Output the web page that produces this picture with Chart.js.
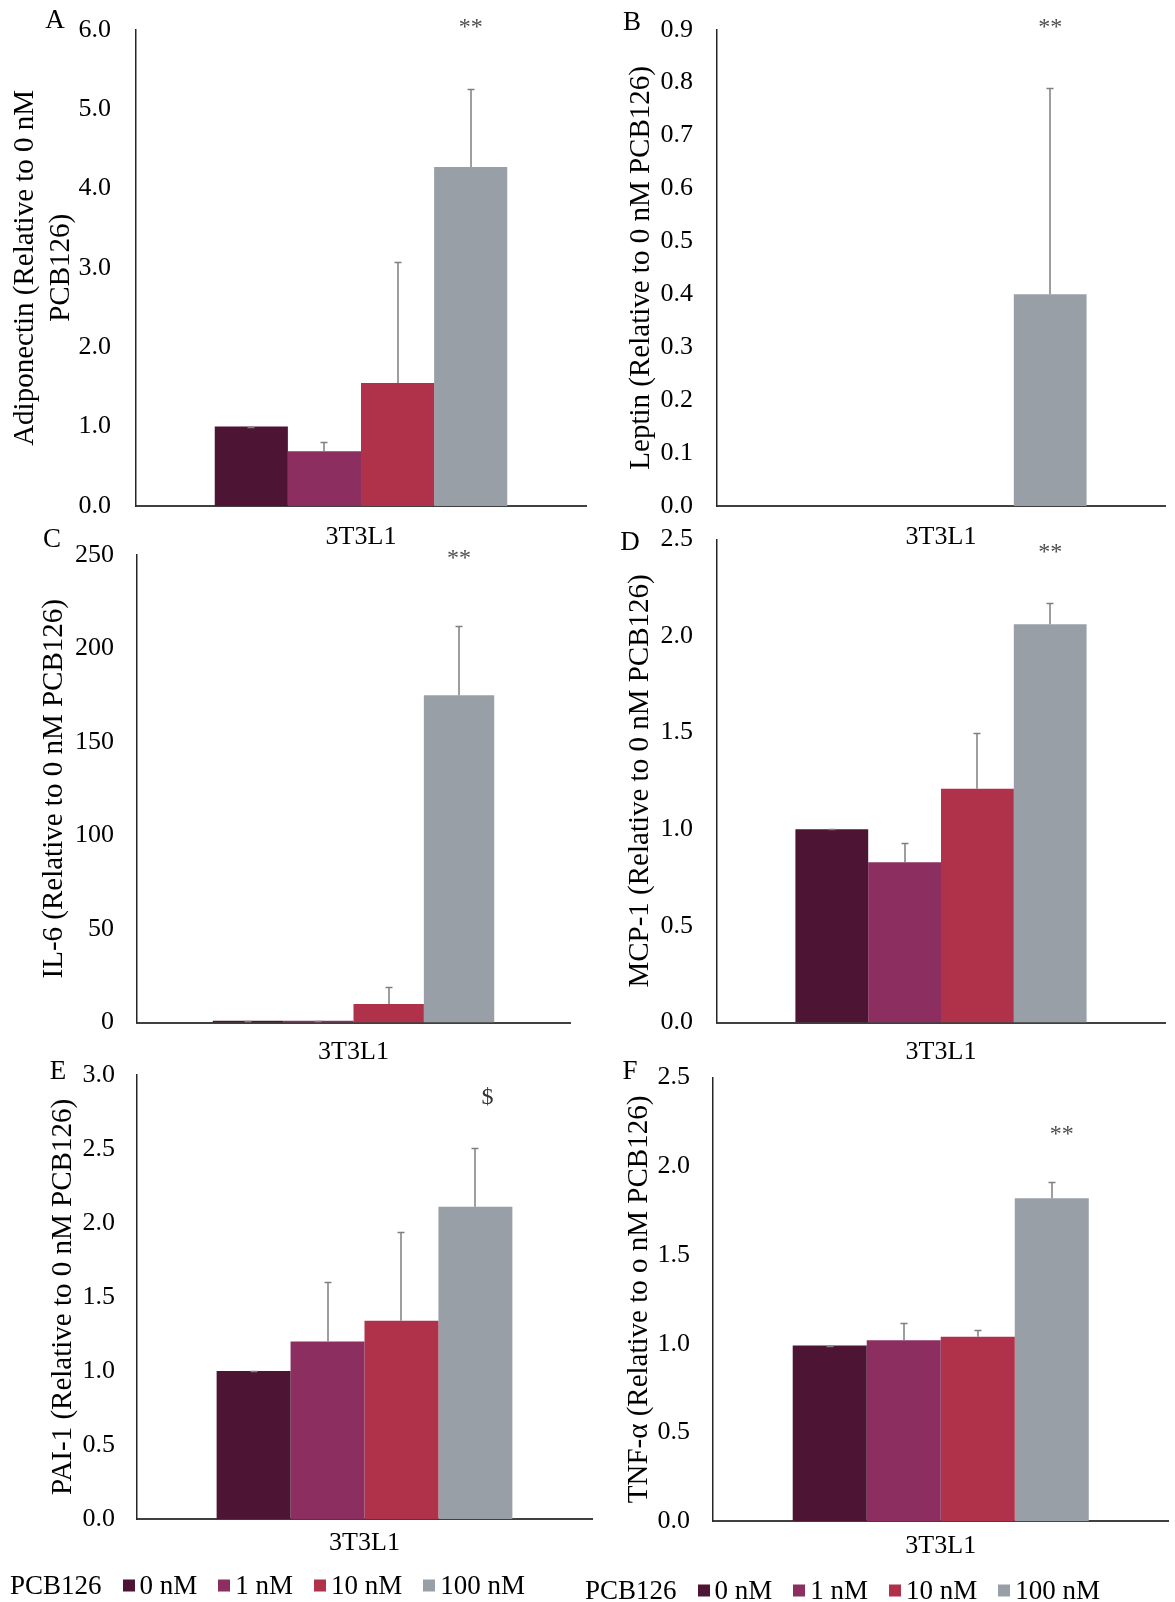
<!DOCTYPE html>
<html>
<head>
<meta charset="utf-8">
<script src="https://cdn.jsdelivr.net/npm/chart.js@4.4.0/dist/chart.umd.min.js"></script>
<style>
  html, body { margin: 0; padding: 0; background: #fff; }
  #page { position: relative; width: 1175px; height: 1602px; overflow: hidden;
          font-family: 'Liberation Serif', 'Times New Roman', serif; color: #000; }
  #page canvas { position: absolute; }
  .letter { position: absolute; font-size: 27px; line-height: 1; transform: translate(-50%, -50%); }
  .legend { position: absolute; display: flex; align-items: center; font-size: 27px; line-height: 1;
            white-space: nowrap; transform: translateY(-50%); }
  .legend .item { display: flex; align-items: center; margin-left: 21px; }
  .legend .sw { display: inline-block; width: 12px; height: 12px; margin-right: 5px; }
</style>
</head>
<body>
<div id="page"></div>
<script>
// ---- data ----
const categories = ['3T3L1'];
const doseLabels = ['0 nM', '1 nM', '10 nM', '100 nM'];
const legendTitle = 'PCB126';

const adiponectinMean = [1.00, 0.69, 1.55, 4.27];
const adiponectinErr  = [0.00, 0.12, 1.52, 0.98];
const adiponectinTicks = [0, 1, 2, 3, 4, 5, 6];
const adiponectinSig = ['', '', '', '**'];

const leptinMean = [null, null, null, 0.40];
const leptinErr  = [null, null, null, 0.39];
const leptinTicks = [0, 0.1, 0.2, 0.3, 0.4, 0.5, 0.6, 0.7, 0.8, 0.9];
const leptinSig = ['', '', '', '**'];

const il6Mean = [1.0, 1.0, 9.9, 175.0];
const il6Err  = [0.0, 0.0, 8.9, 37.1];
const il6Ticks = [0, 50, 100, 150, 200, 250];
const il6Sig = ['', '', '', '**'];

const mcp1Mean = [1.00, 0.83, 1.21, 2.06];
const mcp1Err  = [0.00, 0.10, 0.29, 0.11];
const mcp1Ticks = [0, 0.5, 1.0, 1.5, 2.0, 2.5];
const mcp1Sig = ['', '', '', '**'];

const pai1Mean = [1.00, 1.20, 1.34, 2.11];
const pai1Err  = [0.00, 0.40, 0.60, 0.40];
const pai1Ticks = [0, 0.5, 1.0, 1.5, 2.0, 2.5, 3.0];
const pai1Sig = ['', '', '', '$'];

const tnfMean = [0.99, 1.02, 1.04, 1.82];
const tnfErr  = [0.00, 0.10, 0.04, 0.09];
const tnfTicks = [0, 0.5, 1.0, 1.5, 2.0, 2.5];
const tnfSig = ['', '', '', '**'];

// ---- style ----
const doseColors = ['#4D1533', '#8C2F60', '#AF314A', '#999FA7'];
const SERIF = "'Liberation Serif', 'Times New Roman', serif";

// ---- panel layout (page pixels) ----
const panels = [
  { letter: 'A', letterPos: [55, 19], canvas: { x: 0, y: 0, w: 600, h: 560 },
    area: { l: 136, r: 586, t: 29.7, b: 506 },
    title: ['Adiponectin (Relative to 0 nM', 'PCB126)'], titleX: 25, titleLH: 36,
    mean: adiponectinMean, err: adiponectinErr, ticks: adiponectinTicks, decimals: 1,
    tickPad: 25, catPad: 16, sig: adiponectinSig, sigY: 6.08, sigDx: 0 },
  { letter: 'B', letterPos: [632, 21], canvas: { x: 580, y: 0, w: 595, h: 560 },
    area: { l: 717, r: 1165, t: 29.7, b: 506 },
    title: 'Leptin (Relative to 0 nM PCB126)', titleX: 641, titleLH: 35,
    mean: leptinMean, err: leptinErr, ticks: leptinTicks, decimals: 1,
    tickPad: 24, catPad: 16, sig: leptinSig, sigY: 0.911, sigDx: 0 },
  { letter: 'C', letterPos: [52, 538], canvas: { x: 0, y: 520, w: 600, h: 560 },
    area: { l: 137, r: 570, t: 555, b: 1022.6 },
    title: 'IL-6 (Relative to 0 nM PCB126)', titleX: 54, titleLH: 35,
    mean: il6Mean, err: il6Err, ticks: il6Ticks, decimals: 0,
    tickPad: 23, catPad: 14, sig: il6Sig, sigY: 250, sigDx: 0 },
  { letter: 'D', letterPos: [630, 541], canvas: { x: 580, y: 520, w: 595, h: 560 },
    area: { l: 717, r: 1165, t: 539.3, b: 1022.6 },
    title: 'MCP-1 (Relative to 0 nM PCB126)', titleX: 640, titleLH: 35,
    mean: mcp1Mean, err: mcp1Err, ticks: mcp1Ticks, decimals: 1,
    tickPad: 24, catPad: 14, sig: mcp1Sig, sigY: 2.45, sigDx: 0 },
  { letter: 'E', letterPos: [58, 1070], canvas: { x: 0, y: 1040, w: 600, h: 562 },
    area: { l: 137, r: 592, t: 1075, b: 1519 },
    title: 'PAI-1 (Relative to 0 nM PCB126)', titleX: 63, titleLH: 35,
    mean: pai1Mean, err: pai1Err, ticks: pai1Ticks, decimals: 1,
    tickPad: 22, catPad: 9, sig: pai1Sig, sigY: 2.86, sigDx: 12 },
  { letter: 'F', letterPos: [630, 1070], canvas: { x: 580, y: 1040, w: 595, h: 562 },
    area: { l: 713, r: 1168.5, t: 1077.6, b: 1521.3 },
    title: 'TNF-\u03B1 (Relative to o nM PCB126)', titleX: 639, titleLH: 35,
    mean: tnfMean, err: tnfErr, ticks: tnfTicks, decimals: 1,
    tickPad: 23, catPad: 9, sig: tnfSig, sigY: 2.20, sigDx: 10 }
];

const legends = [ { x: 10, y: 1585 }, { x: 585, y: 1590 } ];

// upper error whiskers drawn from each bar's top
const errorBarPlugin = {
  id: 'errorBars',
  afterDatasetsDraw(chart, args, opts) {
    const ctx = chart.ctx;
    const yScale = chart.scales.y;
    ctx.save();
    ctx.strokeStyle = opts.color;
    ctx.lineWidth = opts.width;
    chart.data.datasets.forEach((ds, i) => {
      const v = ds.data[0];
      const e = ds.errors[0];
      if (v == null || e == null) return;
      const bar = chart.getDatasetMeta(i).data[0];
      const x = Math.round(bar.x);
      const y0 = yScale.getPixelForValue(v);
      const y1 = Math.round(yScale.getPixelForValue(v + e)) + 0.5;
      ctx.beginPath();
      ctx.moveTo(x, y0);
      ctx.lineTo(x, y1);
      ctx.moveTo(x - opts.cap, y1);
      ctx.lineTo(x + opts.cap, y1);
      ctx.stroke();
    });
    ctx.restore();
  }
};

// significance symbols above the bars; the asterisk glyph sits high in
// its em box, so it is nudged down to centre it on the anchor value
const sigPlugin = {
  id: 'sigMarks',
  afterDatasetsDraw(chart, args, opts) {
    const ctx = chart.ctx;
    const yScale = chart.scales.y;
    ctx.save();
    ctx.textAlign = 'center';
    ctx.textBaseline = 'middle';
    chart.data.datasets.forEach((ds, i) => {
      const s = opts.marks[i];
      if (!s) return;
      const bar = chart.getDatasetMeta(i).data[0];
      const isDollar = s === '$';
      ctx.font = (isDollar ? 24 : 24) + 'px ' + SERIF;
      ctx.fillStyle = isDollar ? '#333333' : '#4D4D4D';
      const nudge = isDollar ? 2 : 4;
      ctx.fillText(s, bar.x + opts.dx, yScale.getPixelForValue(opts.y) + nudge);
    });
    ctx.restore();
  }
};

const page = document.getElementById('page');

function buildPanel(p) {
  const cv = document.createElement('canvas');
  cv.width = p.canvas.w;
  cv.height = p.canvas.h;
  cv.style.left = p.canvas.x + 'px';
  cv.style.top = p.canvas.y + 'px';
  cv.style.width = p.canvas.w + 'px';
  cv.style.height = p.canvas.h + 'px';
  page.appendChild(cv);

  const yAxisWidth = p.area.l - p.canvas.x;
  const padTop = p.area.t - p.canvas.y;
  const padRight = p.canvas.x + p.canvas.w - p.area.r;
  const xAxisHeight = p.canvas.y + p.canvas.h - p.area.b;

  new Chart(cv, {
    type: 'bar',
    data: {
      labels: categories,
      datasets: doseLabels.map((d, i) => ({
        label: d,
        data: [p.mean[i]],
        errors: [p.err[i]],
        backgroundColor: doseColors[i],
        borderWidth: 0,
        categoryPercentage: 0.65,
        barPercentage: 1.0
      }))
    },
    options: {
      responsive: false,
      animation: false,
      devicePixelRatio: 1,
      layout: { padding: { left: 0, top: padTop, right: padRight, bottom: 0 } },
      plugins: {
        legend: { display: false },
        tooltip: { enabled: false },
        errorBars: { color: '#7F7F7F', width: 1.5, cap: 3.5 },
        sigMarks: { marks: p.sig, y: p.sigY, dx: p.sigDx }
      },
      scales: {
        x: {
          grid: { display: false, drawTicks: false },
          border: { display: true, color: '#404040', width: 2 },
          ticks: { color: '#000', font: { family: SERIF, size: 26 }, padding: p.catPad },
          afterFit(s) {
            s.height = xAxisHeight;
            s.paddingLeft = 0; s.paddingRight = 0;
          }
        },
        y: {
          min: p.ticks[0],
          max: p.ticks[p.ticks.length - 1],
          grid: { display: false, drawTicks: false },
          border: { display: true, color: '#262626', width: 1.5 },
          ticks: {
            color: '#000',
            font: { family: SERIF, size: 26 },
            padding: p.tickPad,
            callback: v => Number(v).toFixed(p.decimals)
          },
          afterBuildTicks(s) { s.ticks = p.ticks.map(v => ({ value: v })); },
          title: {
            display: true,
            text: p.title,
            color: '#000',
            font: { family: SERIF, size: 29, lineHeight: p.titleLH / 29 },
            padding: { top: p.titleX - p.canvas.x - p.titleLH / 2, bottom: 0 }
          },
          afterFit(s) {
            s.width = yAxisWidth;
            s.paddingTop = 0; s.paddingBottom = 0;
          }
        }
      }
    },
    plugins: [errorBarPlugin, sigPlugin]
  });

  const lt = document.createElement('div');
  lt.className = 'letter';
  lt.textContent = p.letter;
  lt.style.left = p.letterPos[0] + 'px';
  lt.style.top = p.letterPos[1] + 'px';
  page.appendChild(lt);
}

function buildLegend(pos) {
  const div = document.createElement('div');
  div.className = 'legend';
  div.style.left = pos.x + 'px';
  div.style.top = pos.y + 'px';
  const t = document.createElement('span');
  t.textContent = legendTitle;
  div.appendChild(t);
  doseLabels.forEach((d, i) => {
    const it = document.createElement('span');
    it.className = 'item';
    const sw = document.createElement('span');
    sw.className = 'sw';
    sw.style.background = doseColors[i];
    const tx = document.createElement('span');
    tx.textContent = d;
    it.appendChild(sw);
    it.appendChild(tx);
    div.appendChild(it);
  });
  page.appendChild(div);
}

panels.forEach(buildPanel);
legends.forEach(buildLegend);
</script>
</body>
</html>
